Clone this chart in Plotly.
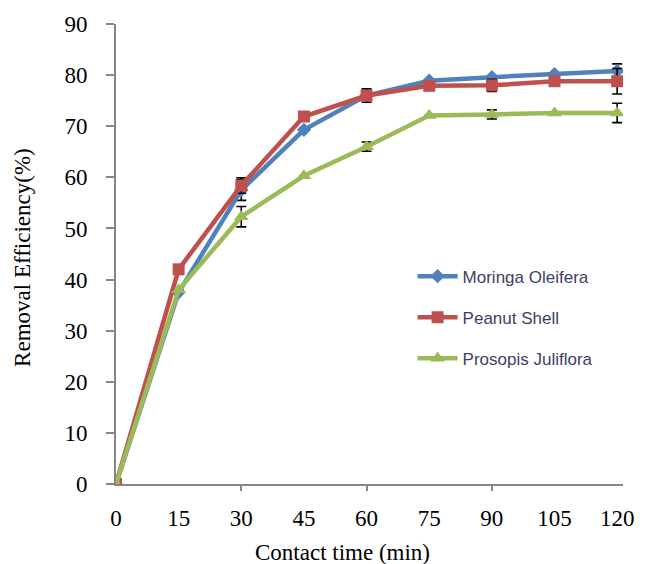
import plotly.graph_objects as go

time_min = [0, 15, 30, 45, 60, 75, 90, 105, 120]
moringa = [0, 37.5, 57.5, 69.3, 76.0, 78.9, 79.6, 80.2, 80.8]
peanut = [0, 42.0, 58.4, 71.9, 76.0, 77.9, 78.0, 78.8, 78.8]
prosopis = [0, 38.0, 52.3, 60.3, 66.0, 72.1, 72.3, 72.6, 72.6]
moringa_err = [None, None, 2.0, None, None, None, None, None, 1.4]
peanut_err = [None, None, 1.5, None, 1.3, None, 1.2, None, 2.5]
prosopis_err = [None, None, 2.0, None, 0.9, None, 0.9, None, 1.9]
x_ticks = [0, 15, 30, 45, 60, 75, 90, 105, 120]
y_ticks = [0, 10, 20, 30, 40, 50, 60, 70, 80, 90]

series = [
    ("Moringa Oleifera", moringa, moringa_err, "#4F81BD", "diamond", 11),
    ("Peanut Shell", peanut, peanut_err, "#C0504D", "square", 12),
    ("Prosopis Juliflora", prosopis, prosopis_err, "#9BBB59", "triangle-up", 13),
]

fig = go.Figure()
for i, (name, vals, err, color, sym, size) in enumerate(series):
    fig.add_trace(go.Scatter(
        x=time_min, y=vals, name=name, mode="lines+markers",
        line=dict(color=color, width=4.5),
        marker=dict(symbol=sym, size=size, color=color),
        error_y=dict(type="data", array=err, visible=True, color="black",
                     thickness=1.6, width=5),
        legendgroup=f"g{i}",
    ))

# overlay axis for tick marks only at 30, 60, 90
fig.add_trace(go.Scatter(x=[None], y=[None], xaxis="x2", showlegend=False,
                         hoverinfo="skip"))

axis_gray = "#868686"
serif = "Liberation Serif, Times New Roman, serif"
fig.update_layout(
    width=646, height=564,
    margin=dict(l=116, r=23, t=19, b=80),
    paper_bgcolor="white", plot_bgcolor="white",
    showlegend=True,
    legend=dict(x=0.585, y=0.49, xanchor="left", yanchor="top",
                font=dict(family="Liberation Sans Narrow, Arial Narrow, Liberation Sans, sans-serif",
                          size=17, color="#3F3F5F"),
                tracegroupgap=16, bgcolor="rgba(0,0,0,0)", itemwidth=40),
    xaxis=dict(range=[0, 121.4], tickmode="array", tickvals=x_ticks,
               ticktext=[str(v) for v in x_ticks], ticks="",
               showline=True, linecolor=axis_gray, linewidth=2,
               showgrid=False, zeroline=False,
               tickfont=dict(family=serif, size=23, color="black"),
               ticklabelstandoff=12),
    xaxis2=dict(range=[0, 121.4], overlaying="x", side="bottom",
                tickmode="array", tickvals=[30, 60, 90], ticks="outside",
                ticklen=6, tickwidth=2, tickcolor=axis_gray,
                showticklabels=False, showgrid=False, zeroline=False,
                showline=False),
    yaxis=dict(range=[0, 90], tickmode="array", tickvals=y_ticks,
               ticks="outside", ticklen=8, tickwidth=2, tickcolor=axis_gray,
               showline=True, linecolor=axis_gray, linewidth=2,
               showgrid=False, zeroline=False, ticklabelstandoff=14,
               tickfont=dict(family=serif, size=23, color="black")),
    annotations=[
        dict(text="Contact time (min)", xref="paper", yref="paper",
             x=0.446, y=-0.148, xanchor="center", yanchor="middle",
             showarrow=False, font=dict(family=serif, size=23, color="black")),
        dict(text="Removal Efficiency(%)", xref="paper", yref="paper",
             x=-0.185, y=0.492, xanchor="center", yanchor="middle",
             textangle=-90, showarrow=False,
             font=dict(family=serif, size=23, color="black")),
    ],
)

fig.write_html("out.html")
